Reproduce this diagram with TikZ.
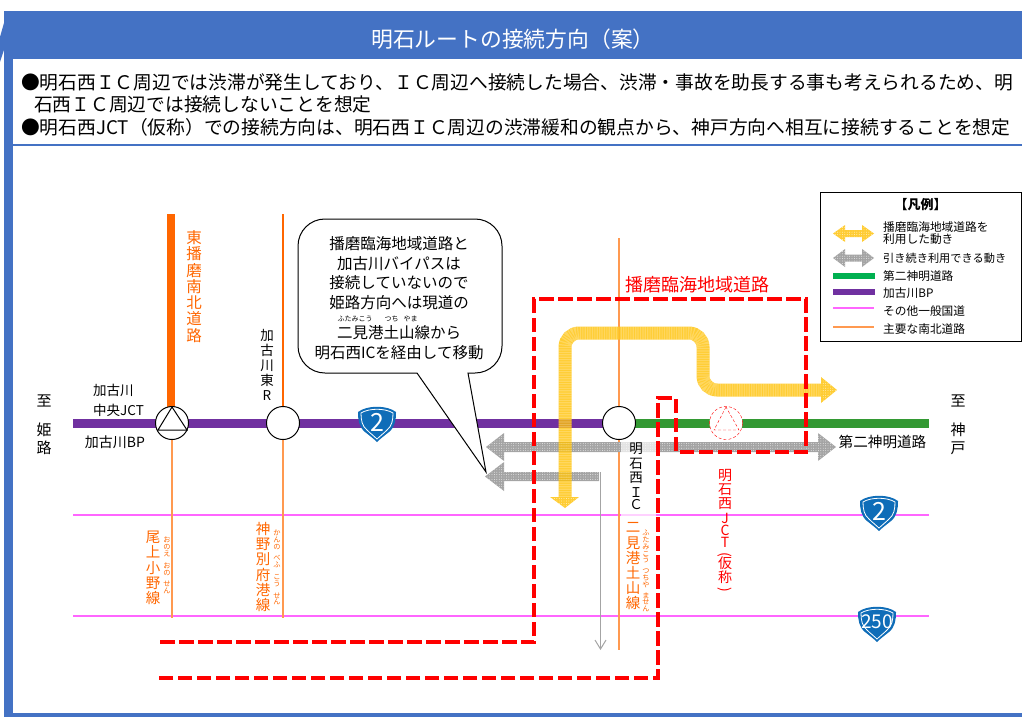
\documentclass[tikz,border=0pt]{standalone}
\usepackage{fontspec}
\setmainfont{Noto Sans CJK JP}
\usetikzlibrary{positioning,shapes.geometric,arrows.meta,patterns.meta}
\definecolor{hdblue}{HTML}{4472C4}
\definecolor{bprpurple}{HTML}{7030A0}
\definecolor{mgreen}{HTML}{339933}
\definecolor{lgreen}{HTML}{00B050}
\definecolor{npink}{HTML}{FF66FF}
\definecolor{roadorange}{HTML}{FF6600}
\definecolor{thinorange}{HTML}{FF9950}
\definecolor{moveyellow}{HTML}{FFC000}
\definecolor{movegray}{HTML}{A4A4A4}
\definecolor{shieldblue}{HTML}{0F6DB8}
\tikzset{
  ictcircle/.style={circle,draw=black,fill=white,line width=1pt,minimum size=33pt,inner sep=0pt},
  redbox/.style={draw=red,line width=4.2pt,dash pattern=on 14.5pt off 4.5pt},
  thinroad/.style={draw=thinorange,line width=1.4pt},
  pinkroad/.style={draw=npink,line width=1.8pt},
  graymove/.style={fill=movegray,postaction={pattern={Dots[distance=2.4pt,radius=.45pt]},pattern color=white!85!movegray}},
  yellowmove/.style={fill=moveyellow,opacity=.8,postaction={pattern={Dots[distance=2.4pt,radius=.45pt]},pattern color=white}},
  yellowtex/.style={draw=white,opacity=.22,line width=13pt,rounded corners=14pt,dash pattern=on 1.2pt off 1.2pt},
  bodytxt/.style={inner sep=0pt,anchor=west,font=\fontsize{18.75}{22}\selectfont},
  txt/.style={inner sep=0pt,align=center,font=\fontsize{15.5}{19.6}\selectfont},
  vtxt/.style={inner sep=0pt,align=center,text width=20pt,font=\fontsize{15}{18}\selectfont},
  orangetxt/.style={vtxt,text=roadorange,font=\fontsize{14.5}{15.2}\selectfont},
  rubytxt/.style={inner sep=0pt,align=center,text width=10pt,font=\fontsize{7.2}{6.8}\selectfont,text=roadorange},
  legtxt/.style={inner sep=0pt,anchor=west,align=left,font=\fontsize{11.7}{12.6}\selectfont},
  shieldnum/.style={inner sep=0pt,text=white,font=\fontsize{25}{25}\selectfont},
  shield/.pic={
    \fill[shieldblue] (-19,-12) .. controls (-10,-19) and (10,-19) .. (19,-12) .. controls (19,-4) and (18,3) .. (12,8) .. controls (7,12) and (3,15) .. (0,18) .. controls (-3,15) and (-7,12) .. (-12,8) .. controls (-18,3) and (-19,-4) .. cycle;
    \draw[white,line width=.8pt] (-16,-11) .. controls (-8,-16) and (8,-16) .. (16,-11) .. controls (16,-4) and (15,2) .. (10,6) .. controls (6,10) and (3,12) .. (0,15) .. controls (-3,12) and (-6,10) .. (-10,6) .. controls (-15,2) and (-16,-4) .. cycle;
  }
}
\newcommand{\vparen}[1]{\smash{\rotatebox[origin=c]{-90}{#1}}}
\begin{document}
\begin{tikzpicture}[x=1pt,y=-1pt]
  \useasboundingbox (0,0) rectangle (1022,717);
  % frame
  \fill[hdblue] (4,11) rectangle (1022,59);
  \fill[hdblue] (4,11) rectangle (13,717);
  \fill[hdblue] (4,713) rectangle (1022,717);
  \fill[hdblue] (13,144) rectangle (1022,146);
  \fill[hdblue] (4,23) -- (0,37) -- (0,62) -- (4,50) -- cycle;
  \node[inner sep=0pt,text=white,font=\fontsize{21.8}{24}\selectfont] (title) at (513,39) {明石ルートの接続方向（案）};
  \node[bodytxt] (lineA) at (21,82) {●明石西ＩＣ周辺では渋滞が発生しており、ＩＣ周辺へ接続した場合、渋滞・事故を助長する事も考えられるため、明};
  \node[bodytxt] (lineB) at (34,104) {石西ＩＣ周辺では接続しないことを想定};
  \node[bodytxt] (lineC) at (21,127) {●明石西JCT（仮称）での接続方向は、明石西ＩＣ周辺の渋滞緩和の観点から、神戸方向へ相互に接続することを想定};

  % roads
  \fill[bprpurple] (73,419) rectangle (620,428);
  \fill[mgreen] (620,419) rectangle (929,428);
  \draw[pinkroad] (73,515) -- (929,515);
  \draw[pinkroad] (73,616) -- (929,616);
  \fill[roadorange] (167,214) rectangle (175,408);
  \draw[thinroad] (172,440) -- (172,618);
  \draw[roadorange,line width=1.2pt] (283,214) -- (283,408);
  \draw[thinroad] (283,440) -- (283,618);
  \draw[thinroad] (619,238) -- (619,650);

  % moves
  \draw[movegray,line width=1pt,-{Straight Barb[length=9pt,width=11pt]}] (600.5,472) -- (600.5,650);
  \path[graymove] (599,472) -- (504,472) -- (504,462) -- (485,476.5) -- (504,491) -- (504,481) -- (599,481) -- cycle;
  \path[graymove] (818,442) -- (818,433) -- (836,447) -- (818,461) -- (818,452) -- (504,452) -- (504,461) -- (486,447) -- (504,433) -- (504,442) -- cycle;
  \fill[white,opacity=.7] (621,441) rectangle (656,517);
  \draw[moveyellow,opacity=.8,line width=13pt,rounded corners=14pt] (565,497) -- (565,333) -- (703,333) -- (703,390) -- (821,390);
  \draw[yellowtex] (565,497) -- (565,333) -- (703,333) -- (703,390) -- (821,390);
  \path[yellowmove] (821,377) -- (837,390) -- (821,403) -- cycle;
  \path[yellowmove] (550,497) -- (565,508) -- (579,497) -- cycle;

  % red dashed
  \draw[redbox] (160,642) -- (534,642) -- (534,299) -- (806,299) -- (806,452) -- (676,452) -- (676,398) -- (658,398) -- (658,678) -- (156,678);
  \node[inner sep=0pt,text=red,font=\fontsize{18}{22}\selectfont] (rinkai) at (697,285) {播磨臨海地域道路};

  % junctions
  \node[ictcircle] (chuo) at (172,423) {};
  \draw[line width=1pt] (172,407) -- (158,430) -- (187,430) -- cycle;
  \node[ictcircle] (higashi) at (283,423) {};
  \node[ictcircle] (nishi) at (619,423) {};
  \node[circle,draw=red,fill=white,dash pattern=on 3pt off 2pt,minimum size=33pt,inner sep=0pt] (jct) at (726,423) {};
  \draw[red,dash pattern=on 3pt off 2pt] (726,407) -- (714,430) -- (739,430) -- cycle;

  % shields
  \pic at (377,424) {shield};
  \node[shieldnum] (sa) at (377,422) {2};
  \pic at (879,513) {shield};
  \node[shieldnum] (sb) at (879,511) {2};
  \pic at (877,624) {shield};
  \node[shieldnum,font=\fontsize{19}{19}\selectfont] (sc) at (877,622) {250};

  % callout
  \draw[fill=white,line width=1pt] (417,373) -- (325,373) .. controls (310,373) and (298,361) .. (298,346) -- (298,246) .. controls (298,231) and (310,219) .. (325,219) -- (475,219) .. controls (490,219) and (502,231) .. (502,246) -- (502,346) .. controls (502,361) and (490,373) .. (475,373) -- (468,373) -- (486,472) -- cycle;
  \node[txt] (noteA) at (399,273) {播磨臨海地域道路と\\加古川バイパスは\\接続していないので\\姫路方向へは現道の};
  \node[inner sep=0pt,font=\fontsize{7}{8}\selectfont] (noteR) at (377.5,319) {ふたみこう\hspace{12pt}つち\hspace{5pt}やま};
  \node[txt] (noteB) at (399,342.5) {二見港土山線から\\明石西ICを経由して移動};

  % labels
  \node[vtxt] (itaruL) at (44,401) {至};
  \node[vtxt] (himeji) at (44,439) {姫\\路};
  \node[vtxt] (itaruR) at (958,401) {至};
  \node[vtxt] (kobe) at (958,439) {神\\戸};
  \node[inner sep=0pt,anchor=west,align=left,font=\fontsize{13.5}{20}\selectfont] (chuolbl) at (93,400) {加古川\\中央JCT};
  \node[inner sep=0pt,font=\fontsize{14}{16}\selectfont] (bplbl) at (115,442) {加古川BP};
  \node[orangetxt,font=\fontsize{15.5}{16.2}\selectfont] (tohban) at (194,286.5) {東\\播\\磨\\南\\北\\道\\路};
  \node[vtxt,font=\fontsize{13.5}{15}\selectfont] (higashilbl) at (267,365) {加\\古\\川\\東\\R};
  \node[vtxt,font=\fontsize{13.5}{14.5}\selectfont] (nishilbl) at (636,476.5) {明\\石\\西\\Ｉ\\[-2pt]Ｃ};
  \node[vtxt,font=\fontsize{14}{14}\selectfont,text=red] (jctlbl) at (725,531.5) {明\\石\\西\\[1pt]J\\[-2pt]C\\[-2pt]T\\[-2pt]\vparen{(}\\[-5pt]仮\\称\\[-2pt]\vparen{)}};
  \node[inner sep=0pt,font=\fontsize{14.6}{16}\selectfont] (dainilbl) at (882.5,442) {第二神明道路};
  \node[orangetxt] (futamilbl) at (633,566.5) {二\\見\\港\\土\\山\\線};
  \node[rubytxt] (futamiruby) at (646,571) {ふ\\た\\み\\こ\\う\\[4pt]つ\\ち\\や\\[4pt]ま\\せ\\ん};
  \node[orangetxt] (kannolbl) at (263,567) {神\\野\\別\\府\\港\\線};
  \node[rubytxt] (kannoruby) at (277,567.5) {か\\ん\\の\\[5pt]べ\\ふ\\[5pt]こ\\う\\[5pt]せ\\ん};
  \node[orangetxt] (onoelbl) at (153,568) {尾\\上\\小\\野\\線};
  \node[rubytxt] (onoeruby) at (167,565.5) {お\\の\\え\\[5pt]お\\の\\[5pt]せ\\ん};

  % legend
  \node[draw=black,line width=1pt,fill=white,minimum width=201pt,minimum height=149pt,inner sep=0pt] (legend) at (920.5,266.5) {};
  \node[inner sep=0pt,font=\fontsize{13}{14}\selectfont\bfseries] (legtitle) at (920.5,205) {【凡例】};
  \path[yellowmove] (833,233.5) -- (845,225) -- (845,230) -- (862,230) -- (862,225) -- (874,233.5) -- (862,242) -- (862,237) -- (845,237) -- (845,242) -- cycle;
  \path[graymove] (833,258) -- (845,249) -- (845,254.5) -- (862,254.5) -- (862,249) -- (874,258) -- (862,267) -- (862,261.5) -- (845,261.5) -- (845,267) -- cycle;
  \fill[lgreen] (833,273) rectangle (875,279);
  \fill[bprpurple] (833,289) rectangle (875,295);
  \draw[pinkroad,line width=1.2pt] (833,308) -- (874,308);
  \draw[thinroad,line width=1.2pt] (833,327) -- (874,327);
  \node[legtxt] (legA) at (883,233) {播磨臨海地域道路を\\利用した動き};
  \node[legtxt,font=\fontsize{11.2}{13}\selectfont] (legB) at (883,258) {引き続き利用できる動き};
  \node[legtxt] (legC) at (883,276.5) {第二神明道路};
  \node[legtxt] (legD) at (883,293) {加古川BP};
  \node[legtxt] (legE) at (883,311) {その他一般国道};
  \node[legtxt] (legF) at (883,329) {主要な南北道路};
\end{tikzpicture}
\end{document}
